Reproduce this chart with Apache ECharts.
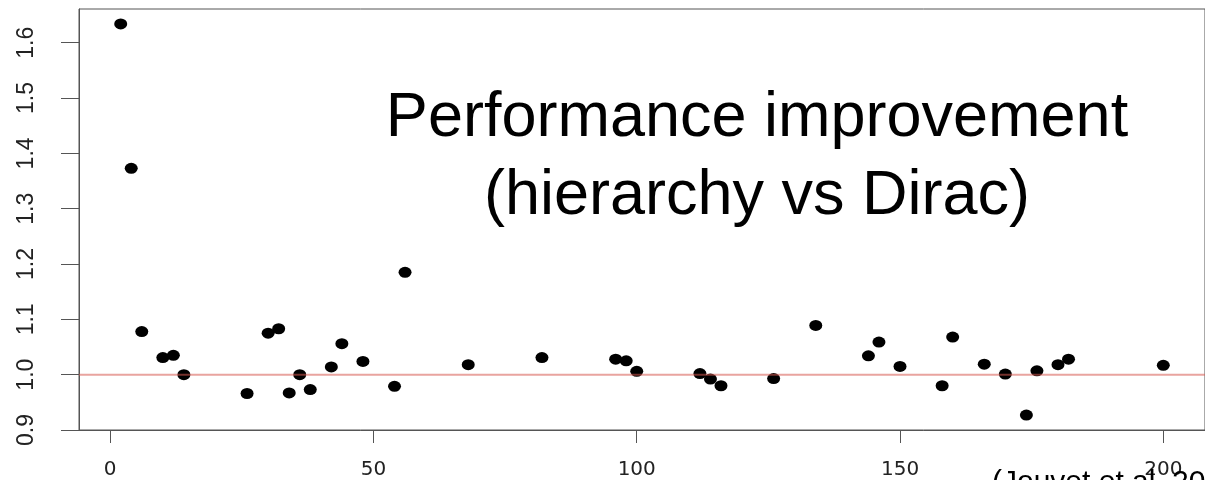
<!DOCTYPE html>
<html>
<head>
<meta charset="utf-8">
<script src="https://cdn.jsdelivr.net/npm/echarts@6/dist/echarts.min.js"></script>
<style>
html,body{margin:0;padding:0;background:#fff;}
#chart{width:1205px;height:480px;}
</style>
</head>
<body>
<div id="chart"></div>
<script>
const xValues = [2,4,6,10,12,14,26,30,32,34,36,38,42,44,48,54,56,68,82,96,98,100,112,114,116,126,134,144,146,150,158,160,166,170,174,176,180,182,200];
const yValues = [1.634,1.373,1.078,1.031,1.035,1.000,0.966,1.075,1.083,0.967,1.000,0.973,1.014,1.056,1.024,0.979,1.185,1.018,1.031,1.028,1.025,1.006,1.002,0.992,0.980,0.993,1.089,1.034,1.059,1.015,0.980,1.068,1.019,1.001,0.927,1.007,1.018,1.028,1.017];
const xTicks = [0,50,100,150,200];
const yTicks = [0.9,1.0,1.1,1.2,1.3,1.4,1.5,1.6];
const refValue = 1.0;
const xRange = [-5.92, 207.92];
const yRange = [0.9, 1.661];
const titleLines = ['Performance improvement', '(hierarchy vs Dirac)'];
const citation = '(Jouvet et al. 2012)';

const points = xValues.map((x, i) => [x, yValues[i]]);
const font = 'Liberation Sans, Arial, Helvetica, sans-serif';

const chart = echarts.init(document.getElementById('chart'), null, {renderer: 'canvas'});
chart.setOption({
  backgroundColor: '#fff',
  animation: false,
  grid: {left: 79, top: 9, width: 1142, height: 421, show: true, borderColor: '#555', borderWidth: 1, backgroundColor: 'transparent'},
  xAxis: {
    type: 'value', min: xRange[0], max: xRange[1],
    splitLine: {show: false},
    axisLine: {show: true, onZero: false, lineStyle: {color: '#555', width: 1}},
    axisTick: {show: true, inside: false, length: 13, customValues: xTicks, lineStyle: {color: '#555', width: 1}},
    axisLabel: {show: true, customValues: xTicks, margin: 30, fontSize: 20, color: '#222', fontFamily: 'DejaVu Sans, sans-serif'}
  },
  yAxis: {
    type: 'value', min: yRange[0], max: yRange[1],
    splitLine: {show: false},
    axisLine: {show: true, onZero: false, lineStyle: {color: '#555', width: 1}},
    axisTick: {show: true, inside: false, length: 18, customValues: yTicks, lineStyle: {color: '#555', width: 1}},
    axisLabel: {show: true, customValues: yTicks, rotate: 90, margin: 41, fontSize: 23, color: '#222',
      fontFamily: 'Liberation Sans Narrow, Liberation Sans, Arial, sans-serif',
      formatter: v => v.toFixed(1)}
  },
  series: [
    {
      type: 'scatter', data: points, symbol: 'circle', symbolSize: [13, 11],
      itemStyle: {color: '#000', opacity: 1}, z: 2
    },
    {
      type: 'line', data: [[xRange[0], refValue], [xRange[1], refValue]], symbol: 'none',
      lineStyle: {color: 'rgba(215,90,80,0.55)', width: 2}, z: 3, silent: true
    }
  ],
  graphic: [
    {type: 'text', z: 10, style: {text: titleLines[0], x: 757, y: 119, align: 'center', verticalAlign: 'middle', font: '63px ' + font, fill: '#000'}},
    {type: 'text', z: 10, style: {text: titleLines[1], x: 757, y: 197, align: 'center', verticalAlign: 'middle', font: '63px ' + font, fill: '#000'}},
    {type: 'text', z: 10, style: {text: citation, x: 992, y: 468, align: 'left', verticalAlign: 'top', font: '30px ' + font, fill: '#000'}}
  ]
});
</script>
</body>
</html>
